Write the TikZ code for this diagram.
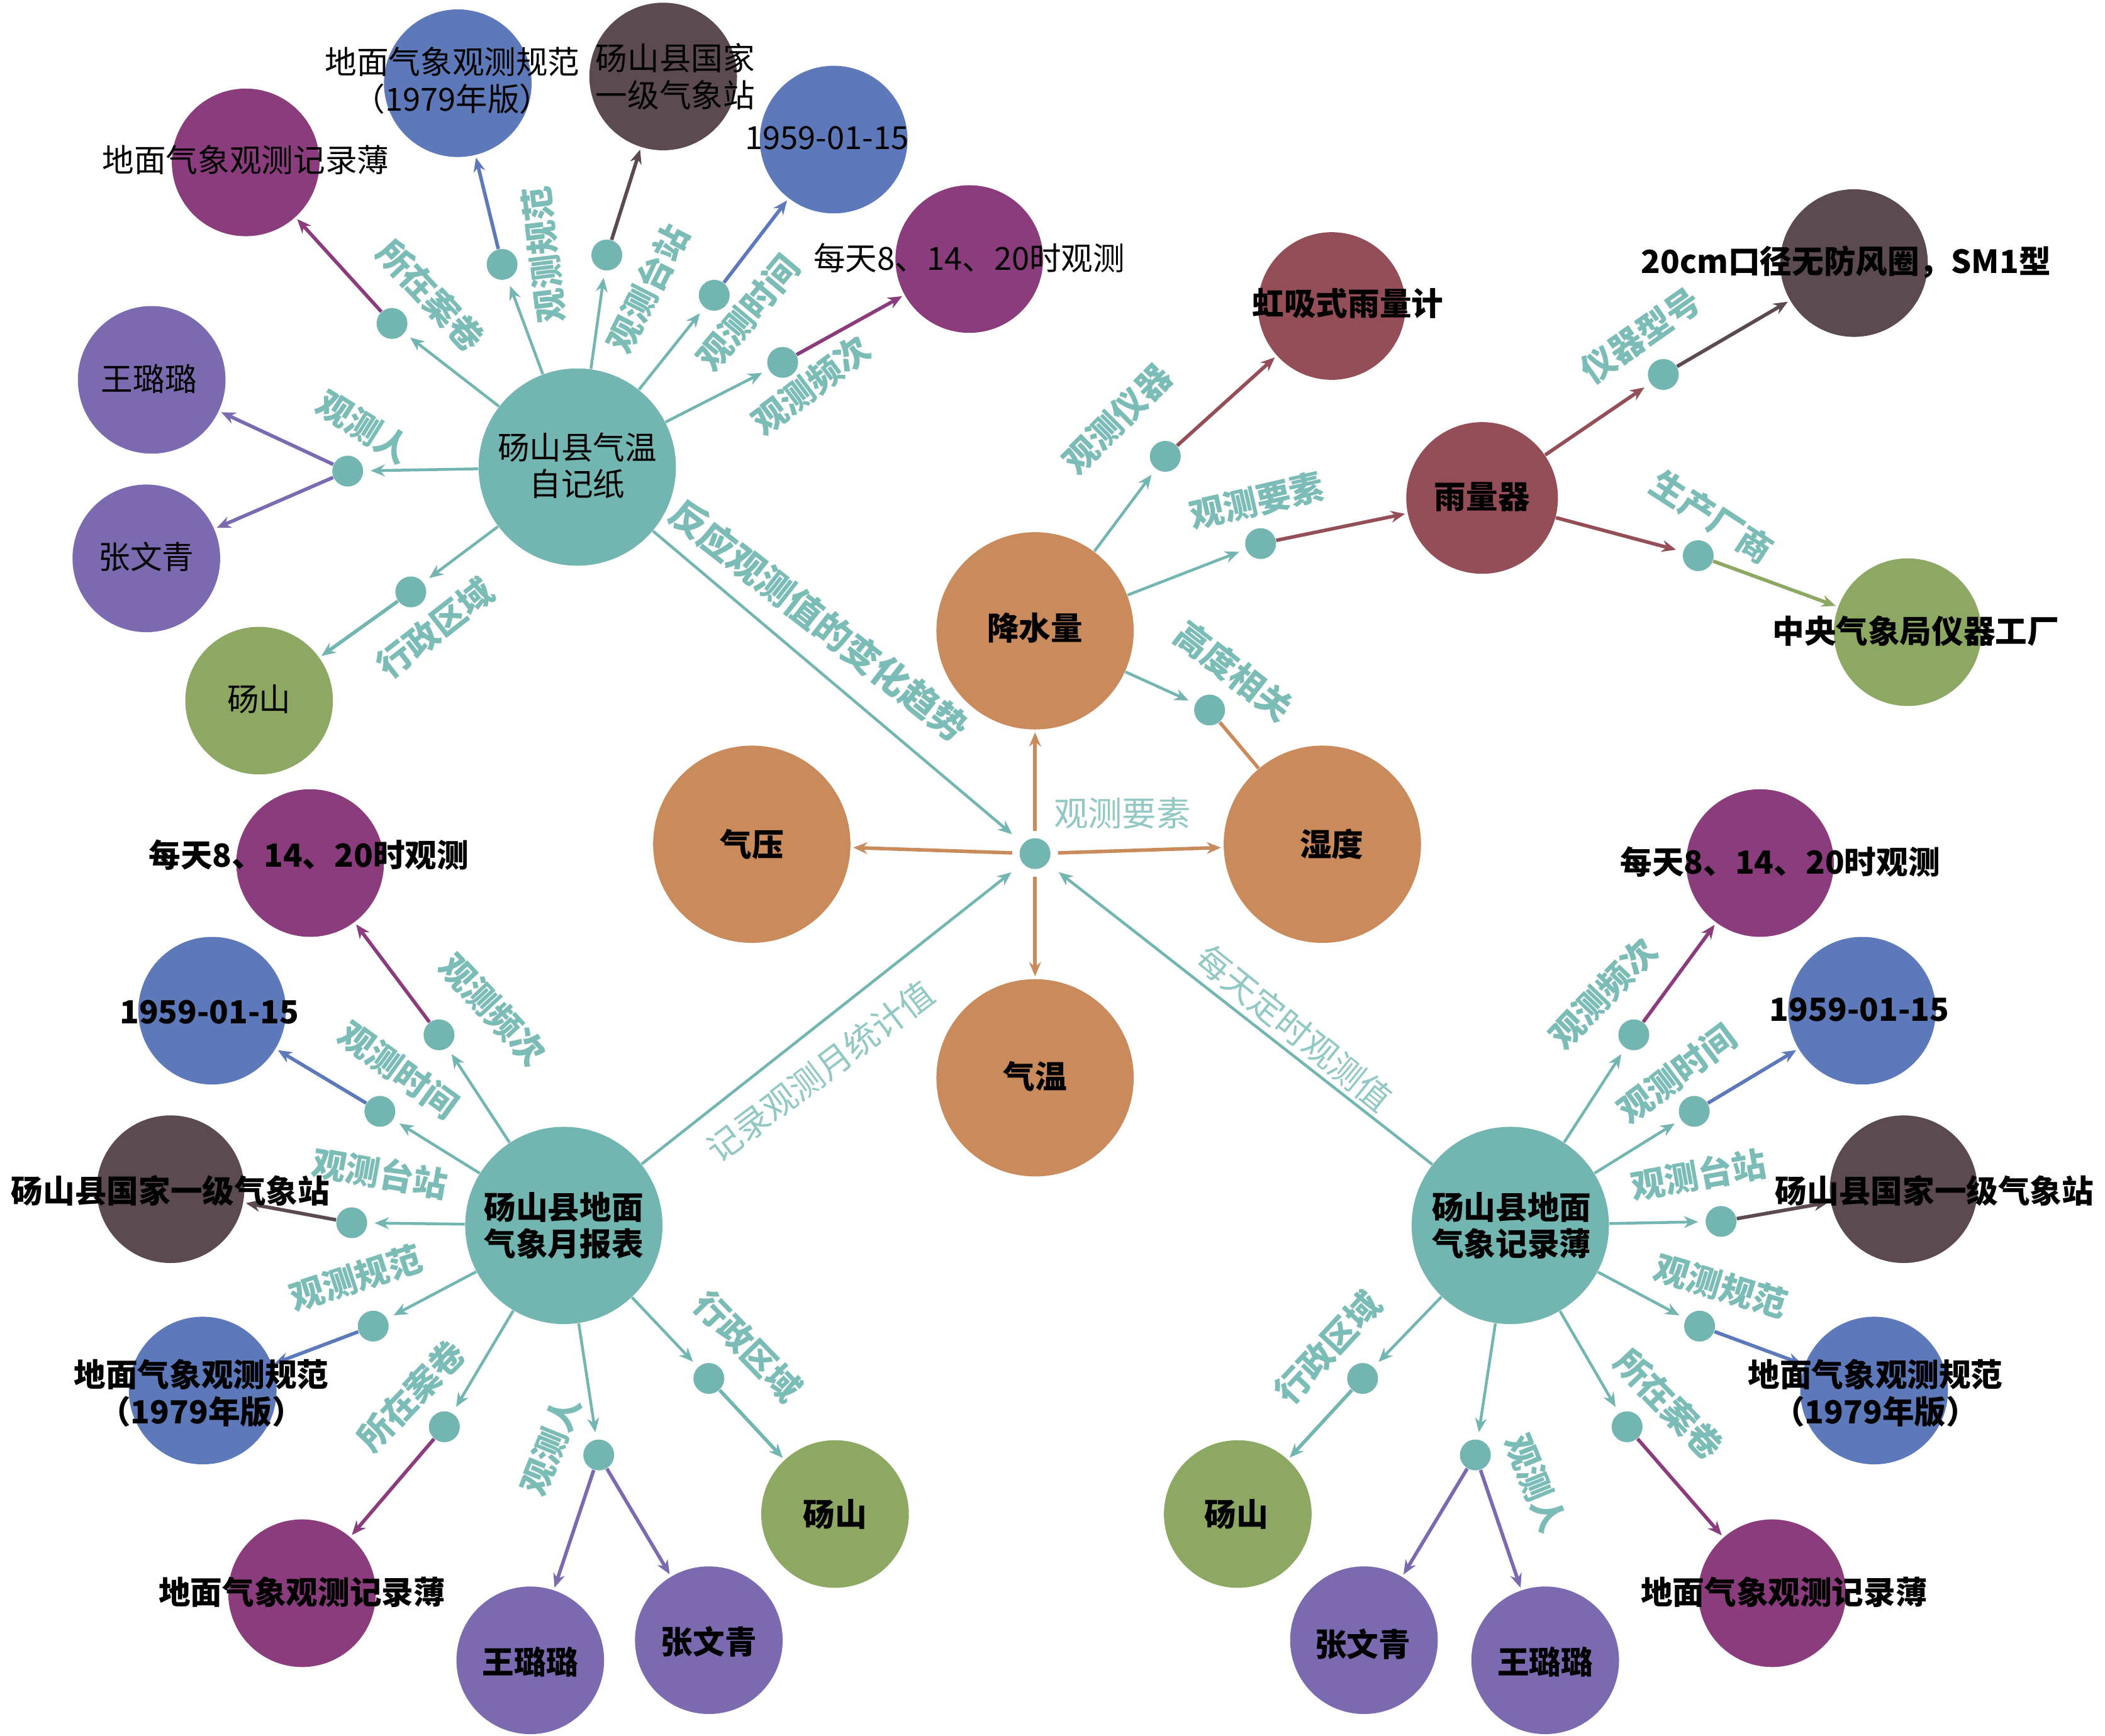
\documentclass[tikz,border=0pt]{standalone}
\usepackage{fontspec}
\setmainfont{Noto Sans CJK SC}
\usetikzlibrary{arrows.meta}
\definecolor{tealc}{HTML}{72B5B1}
\definecolor{labc}{HTML}{7CBCB7}
\definecolor{labl}{HTML}{92C8C4}
\definecolor{orng}{HTML}{C98A5C}
\definecolor{purp}{HTML}{8B3C7C}
\definecolor{bluec}{HTML}{5D79BA}
\definecolor{darkc}{HTML}{5B4B51}
\definecolor{lavc}{HTML}{7B6AB0}
\definecolor{greenc}{HTML}{8CA862}
\definecolor{redc}{HTML}{944E57}
\tikzset{
  big/.style={circle,fill=tealc,minimum size=2.94cm,inner sep=0},
  orb/.style={circle,fill=orng,minimum size=2.94cm,inner sep=0},
  leaf/.style={circle,minimum size=2.2cm,inner sep=0},
  jn/.style={circle,fill=tealc,minimum size=0.46cm,inner sep=0},
  ca/.style={line width=1.2pt,draw=tealc,-{Stealth[length=6pt,width=5pt]},shorten >=3pt},
  la/.style={line width=1.5pt,draw=#1,-{Stealth[length=6pt,width=5pt]},shorten >=1pt},
  oa/.style={line width=1.5pt,draw=orng,-{Stealth[length=6pt,width=5pt]},shorten >=1pt,shorten <=3pt},
  txt/.style={inner sep=0,align=center,text=black,font=\fontsize{13.5}{15.5}\selectfont},
  btxt/.style={inner sep=0,align=center,text=black,font=\fontsize{13.5}{15.5}\selectfont\bfseries},
  elab/.style={inner sep=0,text=labc,font=\fontsize{14.5}{16}\selectfont\bfseries},
  clab/.style={inner sep=0,text=labl,font=\fontsize{14.5}{16}\selectfont}
}
\begin{document}
\begin{tikzpicture}[x=0.02cm,y=-0.02cm]
\useasboundingbox[fill=white] (0,0) rectangle (1568,1293);
% ---------- cluster 1 ----------
\node[big] (c1) at (430,348) {};
\node[leaf,fill=purp] (o1a) at (183,121) {};
\node[leaf,fill=bluec] (o1b) at (341,62) {};
\node[leaf,fill=darkc] (o1c) at (494,57) {};
\node[leaf,fill=bluec] (o1d) at (621,104) {};
\node[leaf,fill=purp] (o1e) at (722,193) {};
\node[leaf,fill=lavc] (o1f) at (113,283) {};
\node[leaf,fill=lavc] (o1h) at (109,416) {};
\node[leaf,fill=greenc] (o1g) at (193,522) {};
\node[jn] (d1a) at (292,241) {};
\node[jn] (d1b) at (374,197) {};
\node[jn] (d1c) at (452,190) {};
\node[jn] (d1d) at (532,220) {};
\node[jn] (d1e) at (583,270) {};
\node[jn] (d1f) at (259,351) {};
\node[jn] (d1g) at (306,441) {};
% ---------- centre ----------
\node[jn] (hub) at (771,636) {};
\node[orb] (rain) at (771,470) {};
\node[orb] (pres) at (560,629) {};
\node[orb] (humi) at (985,629) {};
\node[orb] (temp) at (771,803) {};
\node[leaf,fill=redc] (siph) at (992,228) {};
\node[leaf,fill=redc,minimum size=2.26cm] (gauge) at (1104,371) {};
\node[leaf,fill=darkc] (model) at (1381,196) {};
\node[leaf,fill=greenc] (fact) at (1421,471) {};
\node[jn] (dr1) at (868,340) {};
\node[jn] (dr2) at (939,405) {};
\node[jn] (dr3) at (901,529) {};
\node[jn] (dg1) at (1239,279) {};
\node[jn] (dg2) at (1265,414) {};
% ---------- cluster 2 ----------
\node[big] (c2) at (420,913) {};
\node[leaf,fill=purp] (o2a) at (231,643) {};
\node[leaf,fill=bluec] (o2b) at (158,753) {};
\node[leaf,fill=darkc] (o2c) at (127,886) {};
\node[leaf,fill=bluec] (o2d) at (151,1036) {};
\node[leaf,fill=purp] (o2e) at (225,1187) {};
\node[leaf,fill=lavc] (o2f) at (395,1237) {};
\node[leaf,fill=lavc] (o2h) at (528,1222) {};
\node[leaf,fill=greenc] (o2g) at (622,1128) {};
\node[jn] (d2a) at (327,771) {};
\node[jn] (d2b) at (283,828) {};
\node[jn] (d2c) at (262,911) {};
\node[jn] (d2d) at (278,988) {};
\node[jn] (d2e) at (331,1063) {};
\node[jn] (d2f) at (446,1084) {};
\node[jn] (d2g) at (528,1027) {};
% ---------- cluster 3 ----------
\node[big] (c3) at (1125,913) {};
\node[leaf,fill=purp] (o3a) at (1311,643) {};
\node[leaf,fill=bluec] (o3b) at (1387,753) {};
\node[leaf,fill=darkc] (o3c) at (1418,886) {};
\node[leaf,fill=bluec] (o3d) at (1396,1036) {};
\node[leaf,fill=purp] (o3e) at (1320,1187) {};
\node[leaf,fill=lavc] (o3f) at (1151,1237) {};
\node[leaf,fill=lavc] (o3h) at (1016,1222) {};
\node[leaf,fill=greenc] (o3g) at (922,1128) {};
\node[jn] (d3a) at (1217,771) {};
\node[jn] (d3b) at (1262,828) {};
\node[jn] (d3c) at (1282,910) {};
\node[jn] (d3d) at (1266,988) {};
\node[jn] (d3e) at (1212,1063) {};
\node[jn] (d3f) at (1099,1084) {};
\node[jn] (d3g) at (1015,1027) {};
% ---------- connectors ----------
\foreach \d in {d1a,d1b,d1c,d1d,d1e,d1f,d1g} \draw[ca] (c1) -- (\d);
\draw[la=purp] (d1a) -- (o1a);
\draw[la=bluec] (d1b) -- (o1b);
\draw[la=darkc] (d1c) -- (o1c);
\draw[la=bluec] (d1d) -- (o1d);
\draw[la=purp] (d1e) -- (o1e);
\draw[la=lavc] (d1f) -- (o1f);
\draw[la=lavc] (d1f) -- (o1h);
\draw[la=tealc] (d1g) -- (o1g);
\foreach \d in {d2a,d2b,d2c,d2d,d2e,d2f,d2g} \draw[ca] (c2) -- (\d);
\draw[la=purp] (d2a) -- (o2a);
\draw[la=bluec] (d2b) -- (o2b);
\draw[la=darkc] (d2c) -- (o2c);
\draw[la=bluec] (d2d) -- (o2d);
\draw[la=purp] (d2e) -- (o2e);
\draw[la=lavc] (d2f) -- (o2f);
\draw[la=lavc] (d2f) -- (o2h);
\draw[la=tealc] (d2g) -- (o2g);
\foreach \d in {d3a,d3b,d3c,d3d,d3e,d3f,d3g} \draw[ca] (c3) -- (\d);
\draw[la=purp] (d3a) -- (o3a);
\draw[la=bluec] (d3b) -- (o3b);
\draw[la=darkc] (d3c) -- (o3c);
\draw[la=bluec] (d3d) -- (o3d);
\draw[la=purp] (d3e) -- (o3e);
\draw[la=lavc] (d3f) -- (o3f);
\draw[la=lavc] (d3f) -- (o3h);
\draw[la=tealc] (d3g) -- (o3g);
\draw[ca,shorten >=6pt] (c1) -- (hub);
\draw[ca,shorten >=6pt] (c2) -- (hub);
\draw[ca,shorten >=6pt] (c3) -- (hub);
\draw[oa] (hub) -- (rain);
\draw[oa] (hub) -- (pres);
\draw[oa] (hub) -- (humi);
\draw[oa] (hub) -- (temp);
\draw[ca] (rain) -- (dr1);
\draw[la=redc] (dr1) -- (siph);
\draw[ca] (rain) -- (dr2);
\draw[la=redc] (dr2) -- (gauge);
\draw[ca] (rain) -- (dr3);
\draw[line width=1.5pt,draw=orng] (dr3) -- (humi);
\draw[la=redc,shorten >=3pt] (gauge) -- (dg1);
\draw[la=darkc] (dg1) -- (model);
\draw[la=redc,shorten >=3pt] (gauge) -- (dg2);
\draw[la=greenc] (dg2) -- (fact);
% ---------- node texts ----------
\node[txt] (t1) at (430,347) {砀山县气温\\自记纸};
\node[txt] (t1a) at (183,119) {地面气象观测记录薄};
\node[txt] (t1b) at (337,60) {地面气象观测规范\\（1979年版）};
\node[txt] (t1c) at (503,57) {砀山县国家\\一级气象站};
\node[txt] (t1d) at (616,103) {1959-01-15};
\node[txt] (t1e) at (722,192) {每天8、14、20时观测};
\node[txt] (t1f) at (111,282) {王璐璐};
\node[txt] (t1h) at (109,415) {张文青};
\node[txt] (t1g) at (193,521) {砀山};
\node[btxt] (tr) at (771,468) {降水量};
\node[btxt] (tp) at (560,629) {气压};
\node[btxt] (th) at (992,629) {湿度};
\node[btxt] (tt) at (771,802) {气温};
\node[btxt] (ts) at (1004,226) {虹吸式雨量计};
\node[btxt] (tg) at (1104,370) {雨量器};
\node[btxt] (tm) at (1375,195) {20cm口径无防风圈，SM1型};
\node[btxt] (tf) at (1427,470) {中央气象局仪器工厂};
\node[btxt] (t2) at (420,913) {砀山县地面\\气象月报表};
\node[btxt] (t2a) at (230,637) {每天8、14、20时观测};
\node[btxt] (t2b) at (156,754) {1959-01-15};
\node[btxt] (t2c) at (127,887) {砀山县国家一级气象站};
\node[btxt] (t2d) at (150,1038) {地面气象观测规范\\（1979年版）};
\node[btxt] (t2e) at (225,1186) {地面气象观测记录薄};
\node[btxt] (t2f) at (395,1238) {王璐璐};
\node[btxt] (t2h) at (528,1223) {张文青};
\node[btxt] (t2g) at (622,1128) {砀山};
\node[btxt] (t3) at (1126,913) {砀山县地面\\气象记录薄};
\node[btxt] (t3a) at (1326,642) {每天8、14、20时观测};
\node[btxt] (t3b) at (1385,752) {1959-01-15};
\node[btxt] (t3c) at (1441,887) {砀山县国家一级气象站};
\node[btxt] (t3d) at (1397,1038) {地面气象观测规范\\（1979年版）};
\node[btxt] (t3e) at (1329,1186) {地面气象观测记录薄};
\node[btxt] (t3f) at (1151,1238) {王璐璐};
\node[btxt] (t3h) at (1015,1225) {张文青};
\node[btxt] (t3g) at (921,1128) {砀山};
% ---------- edge labels ----------
\node[elab,rotate=-47] (l1a) at (321,220) {所在案卷};
\node[elab,rotate=97] (l1b) at (405,190) {观测规范};
\node[elab,rotate=63] (l1c) at (482,215) {观测台站};
\node[elab,rotate=50] (l1d) at (557,233) {观测时间};
\node[elab,rotate=37] (l1e) at (604,287) {观测频次};
\node[elab,rotate=-32] (l1f) at (271,318) {观测人};
\node[elab,rotate=38] (l1g) at (324,468) {行政区域};
\node[elab,rotate=-38,font=\fontsize{15.5}{17}\selectfont\bfseries] (l1h) at (610,462) {反应观测值的变化趋势};
\node[elab,rotate=45] (lr1) at (832,312) {观测仪器};
\node[elab,rotate=13] (lr2) at (936,373) {观测要素};
\node[elab,rotate=-38] (lr3) at (919,500) {高度相关};
\node[elab,rotate=35] (lg1) at (1222,250) {仪器型号};
\node[elab,rotate=-33] (lg2) at (1275,385) {生产厂商};
\node[clab] (lh) at (836,606) {观测要素};
\node[clab,rotate=37] (l2h) at (611,798) {记录观测月统计值};
\node[clab,rotate=-39] (l3h) at (964,766) {每天定时观测值};
\node[elab,rotate=-47] (l2a) at (367,752) {观测频次};
\node[elab,rotate=-36] (l2b) at (297,797) {观测时间};
\node[elab,rotate=-10] (l2c) at (283,874) {观测台站};
\node[elab,rotate=18] (l2d) at (265,952) {观测规范};
\node[elab,rotate=46] (l2e) at (306,1040) {所在案卷};
\node[elab,rotate=68] (l2f) at (410,1077) {观测人};
\node[elab,rotate=-46] (l2g) at (557,1003) {行政区域};
\node[elab,rotate=46] (l3a) at (1194,740) {观测频次};
\node[elab,rotate=37] (l3b) at (1249,800) {观测时间};
\node[elab,rotate=10] (l3c) at (1265,875) {观测台站};
\node[elab,rotate=-17] (l3d) at (1282,958) {观测规范};
\node[elab,rotate=-46] (l3e) at (1243,1046) {所在案卷};
\node[elab,rotate=-68] (l3f) at (1144,1105) {观测人};
\node[elab,rotate=47] (l3g) at (989,1004) {行政区域};
\end{tikzpicture}
\end{document}
